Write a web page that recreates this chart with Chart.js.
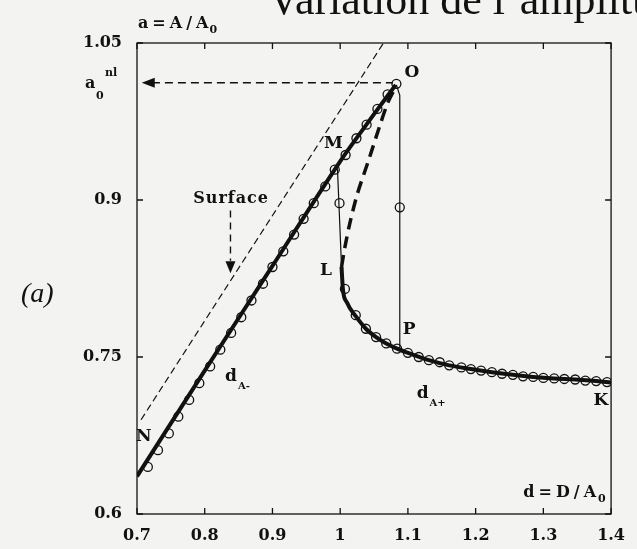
<!DOCTYPE html>
<html><head><meta charset="utf-8">
<script src="https://cdn.jsdelivr.net/npm/chart.js@4/dist/chart.umd.min.js"></script>
<style>html,body{margin:0;padding:0;background:#f3f3f1;overflow:hidden}#wrap{width:637px;height:549px}</style>
</head><body><div id="wrap"><canvas id="c" width="637" height="549"></canvas></div>
<script>
// ---- ticks ----
const xTickValues = [0.7, 0.8, 0.9, 1.0, 1.1, 1.2, 1.3, 1.4];
const yTickValues = [0.6, 0.75, 0.9, 1.05];
const aNL = 1.012; // a0^nl level

// ---- lower branch d_A- (theory, thick solid) ----
const lowerD = [0.7, 0.8, 0.9, 1.0, 1.05, 1.082];
const lowerA = [0.636, 0.737, 0.837, 0.937, 0.982, 1.010];

// ---- surface line (thin dashed) ----
const surfD = [0.706, 1.064];
const surfA = [0.690, 1.050];

// ---- unstable branch (thick dashed) ----
const unstD = [1.002, 1.007, 1.014, 1.025, 1.043, 1.058, 1.071, 1.082];
const unstA = [0.836, 0.855, 0.877, 0.905, 0.940, 0.970, 0.994, 1.008];

// ---- jumps (thin solid) ----
const jumpMLd = [0.996, 1.002];
const jumpMLa = [0.930, 0.836];
const jumpOPd = [1.083, 1.088, 1.088];
const jumpOPa = [1.010, 1.000, 0.757];

// ---- upper branch d_A+ (thick solid) ----
const upperD = [1.002, 1.004, 1.010, 1.023, 1.038, 1.053, 1.068, 1.084, 1.100, 1.131, 1.161, 1.193, 1.224, 1.255, 1.285, 1.316, 1.347, 1.378, 1.400];
const upperA = [0.836, 0.815, 0.802, 0.789, 0.777, 0.769, 0.763, 0.758, 0.754, 0.747, 0.742, 0.7385, 0.7355, 0.733, 0.731, 0.7295, 0.7285, 0.727, 0.7255];

// ---- measured points (open circles) ----
const circD = [0.716, 0.731, 0.747, 0.761, 0.777, 0.792, 0.808, 0.823, 0.839, 0.854, 0.869, 0.886, 0.900, 0.916, 0.932, 0.946, 0.961, 0.978, 0.992, 1.008, 1.024, 1.039, 1.055, 1.070, 1.083,
  0.999, 1.088,
  1.007, 1.023, 1.038, 1.053, 1.068, 1.084, 1.100, 1.116, 1.131, 1.147, 1.161, 1.179, 1.193, 1.208, 1.224, 1.239, 1.255, 1.270, 1.285, 1.300, 1.316, 1.331, 1.347, 1.362, 1.378, 1.394];
const circA = [0.645, 0.661, 0.677, 0.693, 0.709, 0.725, 0.741, 0.757, 0.773, 0.788, 0.804, 0.820, 0.836, 0.851, 0.867, 0.882, 0.897, 0.913, 0.929, 0.943, 0.959, 0.972, 0.987, 1.001, 1.011,
  0.897, 0.893,
  0.815, 0.790, 0.777, 0.769, 0.763, 0.758, 0.754, 0.750, 0.747, 0.745, 0.742, 0.740, 0.7385, 0.737, 0.7355, 0.734, 0.733, 0.7315, 0.731, 0.730, 0.7295, 0.729, 0.7285, 0.7275, 0.727, 0.726];

// ---- a0^nl arrow shaft ----
const arrowD = [0.722, 1.078];
const arrowA = [aNL, aNL];

const pts = (xs, ys) => xs.map((v, i) => ({x: v, y: ys[i]}));
const INK = '#111';
const SERIF = '"DejaVu Serif", serif';

const bgPlugin = {
  id: 'bg',
  beforeDraw(chart) {
    const c = chart.ctx;
    c.save(); c.fillStyle = '#f3f3f1'; c.fillRect(0, 0, chart.width, chart.height); c.restore();
  }
};

const annotate = {
  id: 'annotate',
  afterDraw(chart) {
    const c = chart.ctx, ca = chart.chartArea, X = chart.scales.x, Y = chart.scales.y;
    const px = v => X.getPixelForValue(v), py = v => Y.getPixelForValue(v);
    c.save();
    c.strokeStyle = INK; c.fillStyle = INK;
    // frame
    c.lineWidth = 1.3; c.setLineDash([]);
    c.strokeRect(ca.left, ca.top, ca.right - ca.left, ca.bottom - ca.top);
    // inward ticks
    c.beginPath();
    xTickValues.forEach(v => { const p = px(v); c.moveTo(p, ca.bottom); c.lineTo(p, ca.bottom - 6); c.moveTo(p, ca.top); c.lineTo(p, ca.top + 6); });
    yTickValues.forEach(v => { const p = py(v); c.moveTo(ca.left, p); c.lineTo(ca.left + 6, p); c.moveTo(ca.right, p); c.lineTo(ca.right - 6, p); });
    c.stroke();

    // a0nl arrowhead
    const hx = px(0.707), hy = py(aNL);
    c.beginPath(); c.moveTo(hx, hy); c.lineTo(hx + 13, hy - 5); c.lineTo(hx + 13, hy + 5); c.closePath(); c.fill();

    // Surface dashed arrow
    const sx = px(0.838);
    c.lineWidth = 1.4; c.setLineDash([7, 5]);
    c.beginPath(); c.moveTo(sx, py(0.890)); c.lineTo(sx, py(0.842)); c.stroke();
    c.setLineDash([]);
    const tipY = py(0.830);
    c.beginPath(); c.moveTo(sx, tipY); c.lineTo(sx - 5, tipY - 12); c.lineTo(sx + 5, tipY - 12); c.closePath(); c.fill();

    // point labels
    c.textAlign = 'center'; c.textBaseline = 'middle';
    c.font = 'bold 17px ' + SERIF;
    [['O', 1.106, 1.022], ['M', 0.990, 0.954], ['L', 0.979, 0.833], ['P', 1.102, 0.776], ['N', 0.710, 0.674], ['K', 1.385, 0.708]]
      .forEach(([t, d, a]) => c.fillText(t, px(d), py(a)));
    c.font = 'bold 16px ' + SERIF;
    c.letterSpacing = '1px';
    c.fillText('Surface', px(0.839), py(0.901));

    // branch labels d_A- , d_A+
    c.textAlign = 'left'; c.textBaseline = 'alphabetic'; c.letterSpacing = '0px';
    const sub = (main, s, x0, y0) => {
      c.font = 'bold 17px ' + SERIF; c.fillText(main, x0, y0);
      const w = c.measureText(main).width;
      c.font = 'bold 10px ' + SERIF; c.fillText(s, x0 + w + 1, y0 + 8);
    };
    sub('d', 'A-', px(0.830), py(0.727));
    sub('d', 'A+', px(1.113), py(0.711));

    // a0^nl label on the y side
    c.font = 'bold 16px ' + SERIF; c.fillText('a', 85, hy + 5);
    c.font = 'bold 11px ' + SERIF; c.fillText('0', 96, hy + 16); c.fillText('nl', 105, hy - 7);

    // axis titles
    c.font = 'bold 16px ' + SERIF; c.letterSpacing = '4px';
    c.fillText('a=A/A', ca.left + 1, ca.top - 15);
    let w = c.measureText('a=A/A').width;
    c.letterSpacing = '0px'; c.font = 'bold 11px ' + SERIF; c.fillText('0', ca.left + w - 2, ca.top - 10);
    c.font = 'bold 16px ' + SERIF; c.letterSpacing = '4px';
    w = c.measureText('d=D/A').width;
    c.fillText('d=D/A', ca.right - 11 - w, ca.bottom - 17);
    c.letterSpacing = '0px'; c.font = 'bold 11px ' + SERIF; c.fillText('0', ca.right - 13, ca.bottom - 12);

    // (a)
    c.font = 'italic 28px "Liberation Serif", serif';
    c.fillText('(a)', 21, ca.top + 259);

    // title (clipped at top edge as in the scan)
    c.font = '44px "Liberation Serif", serif';
    c.fillText('Variation de l\u2019amplitude', 268, 14);
    c.restore();
  }
};

const thin = {pointRadius: 0, borderColor: INK, fill: false};
new Chart(document.getElementById('c'), {
  type: 'scatter',
  data: {
    datasets: [
      {...thin, data: pts(surfD, surfA), showLine: true, borderWidth: 1.2, borderDash: [7, 4]},
      {...thin, data: pts(arrowD, arrowA), showLine: true, borderWidth: 1.6, borderDash: [8, 5]},
      {...thin, data: pts(lowerD, lowerA), showLine: true, borderWidth: 4, tension: 0.3},
      {...thin, data: pts(unstD, unstA), showLine: true, borderWidth: 3.5, borderDash: [12, 7], tension: 0.3},
      {...thin, data: pts(jumpMLd, jumpMLa), showLine: true, borderWidth: 1.2},
      {...thin, data: pts(jumpOPd, jumpOPa), showLine: true, borderWidth: 1.2},
      {...thin, data: pts(upperD, upperA), showLine: true, borderWidth: 4, cubicInterpolationMode: 'monotone'},
      {data: pts(circD, circA), showLine: false, pointRadius: 4.5, pointBorderWidth: 1.3, pointBorderColor: INK, pointBackgroundColor: 'rgba(0,0,0,0)'}
    ]
  },
  options: {
    responsive: false, animation: false, devicePixelRatio: 1,
    layout: {padding: {top: 43, right: 18, left: 0, bottom: 0}},
    plugins: {legend: {display: false}, tooltip: {enabled: false}},
    scales: {
      x: {
        type: 'linear', min: 0.7, max: 1.4, position: 'bottom',
        grid: {display: false, drawTicks: false}, border: {display: false},
        afterBuildTicks: s => { s.ticks = xTickValues.map(v => ({value: v})); },
        afterFit: s => { s.height = 35; },
        ticks: {padding: 12, color: INK, font: {family: 'DejaVu Serif', weight: 'bold', size: 16}, callback: v => String(+v.toFixed(2))}
      },
      y: {
        type: 'linear', min: 0.6, max: 1.05,
        grid: {display: false, drawTicks: false}, border: {display: false},
        afterBuildTicks: s => { s.ticks = yTickValues.map(v => ({value: v})); },
        afterFit: s => { s.width = 137; },
        ticks: {padding: 15, color: INK, font: {family: 'DejaVu Serif', weight: 'bold', size: 16}, callback: v => String(+v.toFixed(2))}
      }
    }
  },
  plugins: [bgPlugin, annotate]
});
</script></body></html>
